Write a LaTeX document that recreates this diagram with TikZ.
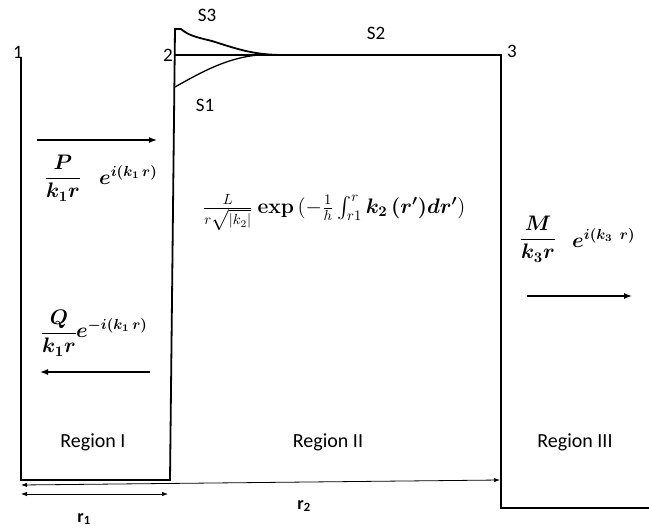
\documentclass[tikz,border=0pt]{standalone}
\usepackage{amsmath}
\usepackage{bm}
\usepackage{graphicx}
\usepackage[no-math]{fontspec}
\setmainfont{Carlito}
\usetikzlibrary{arrows.meta}
\newcommand{\bigmath}[1]{\scalebox{1.46}{#1}}
\begin{document}
\begin{tikzpicture}[x=1pt,y=-1pt,
  wallline/.style={line width=1.8pt, line join=miter},
  thinline/.style={line width=1.3pt},
  labl/.style={font=\fontsize{19}{22}\selectfont, inner sep=0pt},
  regl/.style={font=\fontsize{20}{23}\selectfont, inner sep=0pt},
  eqn/.style={font=\fontsize{14.4}{17}\selectfont, inner sep=0pt},
  flowarrow/.style={line width=1.4pt, -{Latex[length=8pt,width=6pt]}},
  dimarrow/.style={line width=0.8pt, {Latex[length=6pt,width=4.5pt]}-{Latex[length=6pt,width=4.5pt]}}]
\useasboundingbox (0,0) rectangle (649,528);
% outline
\coordinate (c1) at (21,57);
\coordinate (c1b) at (21,480);
\coordinate (c2b) at (170,480);
\coordinate (c2t) at (175,29);
\coordinate (c2) at (175,55);
\coordinate (c2s) at (175,87);
\coordinate (c3) at (501,55);
\coordinate (c3b) at (501,508);
\coordinate (c4b) at (649,508);
\draw[wallline] (c1) -- (c1b) -- (c2b) -- (c2t) -- (181,29)
  .. controls (188,35) and (195,37) .. (212,41)
  .. controls (240,50) and (255,55) .. (284,55);
\draw[thinline] (c2s) .. controls (205,70) and (228,58) .. (258,55);
\draw[wallline] (c2) -- (c3) -- (c3b) -- (c4b);
% corner labels
\node[labl] (n1) at (18,52) {1};
\node[labl] (n2) at (168,55) {2};
\node[labl] (n3) at (512,51) {3};
\node[labl] (s3) at (207,15) {S3};
\node[labl] (s2) at (376,33) {S2};
\node[labl] (s1) at (205,105) {S1};
% region I
\coordinate (a1s) at (37,140);
\coordinate (a1e) at (157,140);
\draw[flowarrow] (a1s) -- (a1e);
\node[eqn] (fracP) at (63,178) {\bigmath{$\displaystyle\frac{\bm{P}}{\bm{k_1 r}}$}};
\node[eqn, anchor=base west] (expP) at (99,184) {\bigmath{$\bm{e^{i(k_1\,r)}}$}};
\node[eqn] (fracQ) at (59,333) {\bigmath{$\displaystyle\frac{\bm{Q}}{\bm{k_1 r}}$}};
\node[eqn, anchor=base west] (expQ) at (76,337) {\bigmath{$\bm{e^{-i(k_1\,r)}}$}};
\coordinate (a2s) at (150,372);
\coordinate (a2e) at (40,372);
\draw[flowarrow] (a2s) -- (a2e);
% region II
\node[eqn] (wkb) at (334,213) {\bigmath{$\frac{L}{r\sqrt{|k_2|}}\ \mathbf{exp}\,(-\frac{1}{h}\int_{r1}^{r} \bm{k_2\,(r')dr'})$}};
% region III
\node[eqn] (fracM) at (538,239) {\bigmath{$\displaystyle\frac{\bm{M}}{\bm{k_3 r}}$}};
\node[eqn, anchor=base west] (expM) at (572,247) {\bigmath{$\bm{e^{i(k_3\;\,r)}}$}};
\coordinate (a3s) at (527,296);
\coordinate (a3e) at (632,296);
\draw[flowarrow] (a3s) -- (a3e);
% region labels
\node[regl] (R1) at (93,442) {Region I};
\node[regl] (R2) at (328,442) {Region II};
\node[regl] (R3) at (575,442) {Region III};
% dimensions
\coordinate (d2s) at (21,485);
\coordinate (d2e) at (500,480);
\draw[dimarrow] (d2s) -- (d2e);
\coordinate (d1s) at (21,494);
\coordinate (d1e) at (168,494);
\draw[dimarrow] (d1s) -- (d1e);
\node[labl, font=\fontsize{18}{20}\selectfont\bfseries] (r1) at (84,519) {r\textsubscript{1}};
\node[labl, font=\fontsize{18}{20}\selectfont\bfseries] (r2) at (304,506) {r\textsubscript{2}};
\end{tikzpicture}
\end{document}
